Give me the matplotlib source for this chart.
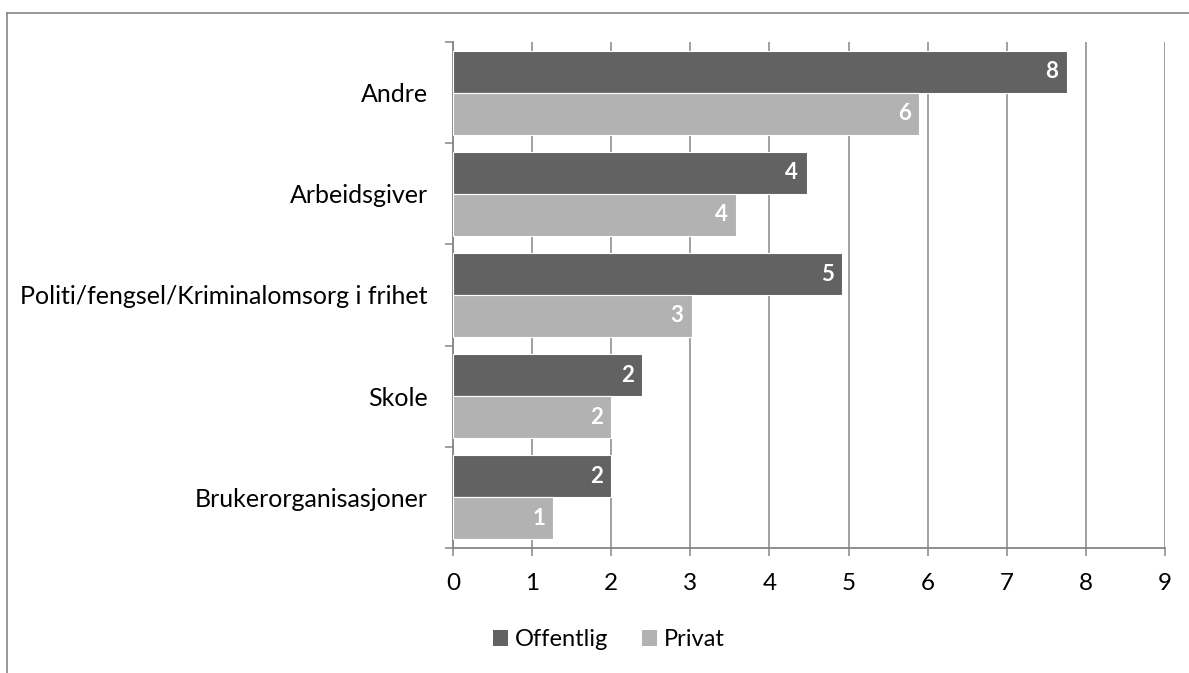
import matplotlib
matplotlib.use("Agg")
import matplotlib.pyplot as plt
from matplotlib.lines import Line2D
from matplotlib.patches import Patch

categories = ["Brukerorganisasjoner", "Skole", "Politi/fengsel/Kriminalomsorg i frihet", "Arbeidsgiver", "Andre"]
offentlig = [2.0, 2.39, 4.92, 4.47, 7.76]
privat = [1.27, 2.0, 3.02, 3.58, 5.89]
series_names = ["Offentlig", "Privat"]
xticks = [0, 1, 2, 3, 4, 5, 6, 7, 8, 9]

plt.rcParams['font.family'] = ['Lato', 'DejaVu Sans']

c_off = "#626262"
c_priv = "#b2b2b2"
grid_c = "#868686"

fig = plt.figure(figsize=(11.89, 6.73), dpi=100)
ax = fig.add_axes([453/1189, 1-548/673, (1165-453)/1189, (548-42)/673])

h = 0.415
ys = list(range(len(categories)))
b1 = ax.barh([y + h/2 for y in ys], offentlig, height=h, color=c_off, edgecolor="white", linewidth=0.8, zorder=3)
b2 = ax.barh([y - h/2 for y in ys], privat, height=h, color=c_priv, edgecolor="white", linewidth=0.8, zorder=3)

for bars, vals in ((b1, offentlig), (b2, privat)):
    for bar, v in zip(bars, vals):
        ax.annotate(str(int(round(v))), xy=(v, bar.get_y() + bar.get_height()/2),
                    xytext=(-6, 0), textcoords="offset points", ha="right", va="center",
                    color="white", fontsize=16, fontweight="bold", zorder=4)

ax.set_xlim(0, 9)
ax.set_ylim(-0.5, len(categories) - 0.5)
ax.set_xticks(xticks)
ax.set_xticklabels([str(t) for t in xticks])
ax.xaxis.grid(True, color=grid_c, linewidth=1.1, zorder=0)
ax.set_axisbelow(True)

ax.set_yticks([y - 0.5 for y in range(len(categories) + 1)])
ax.set_yticklabels([])
ax.set_yticks(ys, minor=True)
ax.set_yticklabels(categories, minor=True)
ax.tick_params(axis='y', which='major', length=6, width=1.1, color=grid_c)
ax.tick_params(axis='y', which='minor', length=0, pad=18, labelsize=18)
ax.tick_params(axis='x', which='major', length=6, width=1.1, color=grid_c, pad=12, labelsize=17.5)

for s in ("top", "right"):
    ax.spines[s].set_visible(False)
for s in ("left", "bottom"):
    ax.spines[s].set_color(grid_c)
    ax.spines[s].set_linewidth(1.3)

handles = [Patch(facecolor=c_off), Patch(facecolor=c_priv)]
fig.legend(handles, series_names, loc="center", bbox_to_anchor=(609/1189, 1-640/673), ncol=2,
           frameon=False, fontsize=17, handlelength=0.65, handleheight=0.65, handletextpad=0.3,
           columnspacing=1.4)

# outer chart border (partially visible)
fig.add_artist(Line2D([7/1189, 1], [1-13/673, 1-13/673], transform=fig.transFigure, color=grid_c, linewidth=1.2))
fig.add_artist(Line2D([7/1189, 7/1189], [0, 1-13/673], transform=fig.transFigure, color=grid_c, linewidth=1.2))

fig.savefig("out.png", dpi=100)
